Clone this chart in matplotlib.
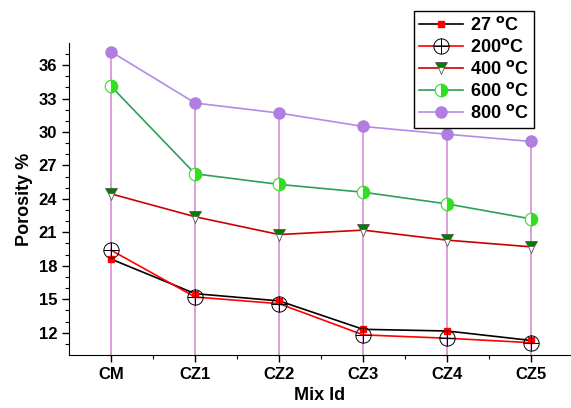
import numpy as np
import matplotlib
matplotlib.use("Agg")
from matplotlib import pyplot as plt
from matplotlib.path import Path

plt.rcParams['font.family'] = ['Liberation Sans', 'DejaVu Sans']
plt.rcParams['font.weight'] = 'bold'

mixes = ["CM", "CZ1", "CZ2", "CZ3", "CZ4", "CZ5"]
t27 = [18.6, 15.5, 14.85, 12.3, 12.15, 11.3]
t200 = [19.4, 15.2, 14.6, 11.8, 11.5, 11.1]
t400 = [24.45, 22.4, 20.8, 21.2, 20.3, 19.7]
t600 = [34.1, 26.25, 25.3, 24.6, 23.55, 22.2]
t800 = [37.2, 32.6, 31.7, 30.5, 29.8, 29.15]
labels = ["27 $^{\\mathbf{o}}$C", "200$^{\\mathbf{o}}$C", "400 $^{\\mathbf{o}}$C",
          "600 $^{\\mathbf{o}}$C", "800 $^{\\mathbf{o}}$C"]

x = np.arange(len(mixes))

# circle with a cross inside
cross = Path([(-1, 0), (1, 0), (0, -1), (0, 1)],
             [Path.MOVETO, Path.LINETO, Path.MOVETO, Path.LINETO])
oplus = Path.make_compound_path(Path.unit_circle(), cross)

fig = plt.figure(figsize=(5.71, 4.08), dpi=100)
ax = fig.add_axes([0.121, 0.13, 0.877, 0.765])

# drop lines from the top series
ax.vlines(x, 10, t800, color='#d58fd5', linewidth=1.2, zorder=1)

ax.plot(x, t27, '-', color='black', linewidth=1.2, marker='s', markersize=5,
        markerfacecolor='red', markeredgecolor='red', label=labels[0], zorder=3)
ax.plot(x, t200, '-', color='red', linewidth=1.2, marker=oplus, markersize=11,
        markerfacecolor='none', markeredgecolor='black', markeredgewidth=0.7,
        label=labels[1], zorder=3)
ax.plot(x, t400, '-', color='#cc0000', linewidth=1.2, marker='v', markersize=8,
        fillstyle='top', markerfacecolor='green', markerfacecoloralt='white',
        markeredgecolor='#555555', markeredgewidth=0.6, label=labels[2], zorder=3)
ax.plot(x, t600, '-', color='#2e9e5a', linewidth=1.2, marker='o', markersize=9,
        fillstyle='right', markerfacecolor='#33dd22', markerfacecoloralt='white',
        markeredgecolor='#33dd22', markeredgewidth=0.8, label=labels[3], zorder=3)
ax.plot(x, t800, '-', color='#b38be6', linewidth=1.2, marker='o', markersize=8,
        markerfacecolor='#b07ee0', markeredgecolor='#b07ee0', label=labels[4], zorder=3)

ax.set_xlim(-0.5, 5.46)
ax.set_ylim(10, 38)
ax.set_xticks(x)
ax.set_xticklabels(mixes, fontsize=12, fontweight='bold')
ax.set_xticks(x[:-1] + 0.5, minor=True)
ax.set_yticks([12, 15, 18, 21, 24, 27, 30, 33, 36])
ax.set_yticks(np.arange(11, 38, 1), minor=True)
for lab in ax.get_yticklabels():
    lab.set_fontsize(12)
    lab.set_fontweight('bold')
ax.tick_params(which='major', length=5, width=1)
ax.tick_params(which='minor', length=3, width=0.8)

ax.spines['top'].set_visible(False)
ax.spines['right'].set_visible(False)

ax.set_xlabel("Mix Id", fontsize=13, fontweight='bold')
ax.set_ylabel("Porosity %", fontsize=13, fontweight='bold')

leg = fig.legend(loc='upper left', bbox_to_anchor=(0.725, 0.973), borderaxespad=0,
                 fancybox=False, edgecolor='black', framealpha=1,
                 prop={'size': 13, 'weight': 'bold'},
                 handlelength=2.4, borderpad=0.3, labelspacing=0.22, handletextpad=0.4)
leg.get_frame().set_linewidth(1.0)

fig.savefig("out.png", dpi=100)
